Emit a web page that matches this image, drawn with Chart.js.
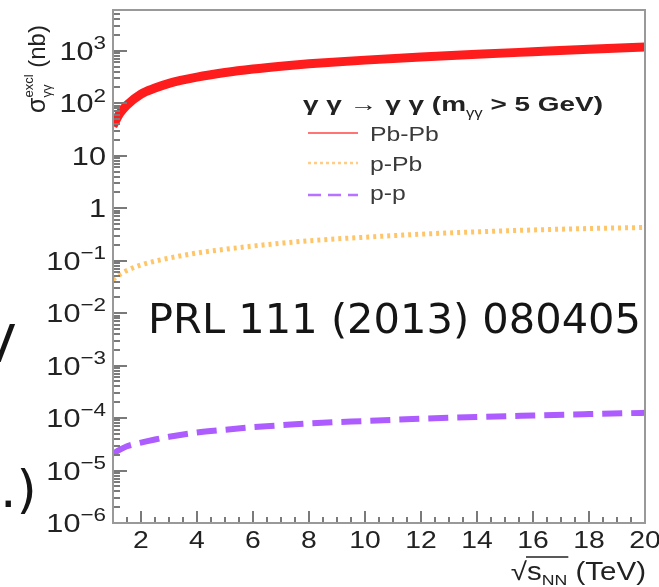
<!DOCTYPE html>
<html>
<head>
<meta charset="utf-8">
<style>
  html, body { margin: 0; padding: 0; background: #fff; }
</style>
<script src="https://cdn.jsdelivr.net/npm/chart.js@4.4.1/dist/chart.umd.min.js"></script>
</head>
<body>
<canvas id="chart" width="659" height="587"></canvas>
<script>
// energia sqrt(s_NN) en TeV
const energies = [1, 1.25, 1.5, 2, 2.5, 3, 4, 5, 6, 7, 8, 10, 12, 14, 16, 18, 20];
// secciones eficaces (nb)
const pbpbValues = [37, 65, 93, 150, 195, 240, 315, 385, 450, 510, 565, 665, 765, 860, 960, 1070, 1180];
const ppbValues = [0.044, 0.055, 0.065, 0.083, 0.098, 0.112, 0.140, 0.165, 0.19, 0.215, 0.24, 0.28, 0.32, 0.355, 0.385, 0.41, 0.43];
const ppValues = [2.1e-5, 2.5e-5, 2.9e-5, 3.4e-5, 3.9e-5, 4.4e-5, 5.3e-5, 6.0e-5, 6.7e-5, 7.3e-5, 7.9e-5, 8.8e-5, 9.7e-5, 1.05e-4, 1.12e-4, 1.19e-4, 1.26e-4];
const seriesNames = ['Pb-Pb', 'p-Pb', 'p-p'];

const xTicks = [2, 4, 6, 8, 10, 12, 14, 16, 18, 20];
const yTickValues = [1e-6, 1e-5, 1e-4, 1e-3, 1e-2, 1e-1, 1, 10, 100, 1000];
const yTickBase = ['10', '10', '10', '10', '10', '10', '1', '10', '10', '10'];
const yTickExp = ['\u22126', '\u22125', '\u22124', '\u22123', '\u22122', '\u22121', '', '', '2', '3'];

const ROOT_FONT = '"Liberation Sans", Arial, sans-serif';
const SX = 1.18; // el texto del original esta algo estirado en horizontal

function toPoints(values) {
  return energies.map((e, i) => ({ x: e, y: values[i] }));
}

function drawText(ctx, txt, x, y, size, opts) {
  opts = opts || {};
  ctx.save();
  ctx.font = (opts.weight || '') + ' ' + size + 'px ' + (opts.family || ROOT_FONT);
  ctx.fillStyle = opts.color || '#222';
  ctx.textAlign = opts.align || 'left';
  ctx.textBaseline = opts.baseline || 'alphabetic';
  ctx.translate(x, y);
  ctx.scale(opts.sx || SX, 1);
  ctx.fillText(txt, 0, 0);
  ctx.restore();
}

function textWidth(ctx, txt, size, opts) {
  opts = opts || {};
  ctx.save();
  ctx.font = (opts.weight || '') + ' ' + size + 'px ' + (opts.family || ROOT_FONT);
  const w = ctx.measureText(txt).width * (opts.sx || SX);
  ctx.restore();
  return w;
}

function line(ctx, x1, y1, x2, y2) {
  ctx.beginPath();
  ctx.moveTo(x1, y1);
  ctx.lineTo(x2, y2);
  ctx.stroke();
}

const rootStyle = {
  id: 'rootStyle',
  afterDraw(chart) {
    const ctx = chart.ctx;
    const a = chart.chartArea;
    const x = chart.scales.x;
    const y = chart.scales.y;
    ctx.save();
    ctx.setLineDash([]);
    ctx.lineDashOffset = 0;

    // marcas del eje Y (hacia dentro)
    ctx.strokeStyle = '#7a7a7a';
    ctx.lineWidth = 2;
    for (let d = -6; d <= 3; d++) {
      for (let m = 1; m <= 9; m++) {
        const v = m * Math.pow(10, d);
        if (v > y.max) break;
        const py = Math.round(y.getPixelForValue(v));
        line(ctx, a.left, py, a.left + (m === 1 ? 14 : 7), py);
      }
    }
    // marcas del eje X
    for (let v = 1; v <= 20; v += 0.5) {
      const px = Math.round(x.getPixelForValue(v));
      const len = (v % 2 === 0) ? 12 : 6;
      line(ctx, px, a.bottom, px, a.bottom - len);
    }

    // marco
    ctx.strokeStyle = '#999';
    ctx.lineWidth = 2;
    ctx.strokeRect(a.left, a.top, a.right - a.left, a.bottom - a.top);

    // etiquetas del eje Y
    yTickValues.forEach((v, i) => {
      const py = y.getPixelForValue(v);
      const right = 106;
      let ew = 0;
      if (yTickExp[i]) {
        ew = textWidth(ctx, yTickExp[i], 19);
        drawText(ctx, yTickExp[i], right, py - 7, 19, { align: 'right', baseline: 'middle' });
      }
      drawText(ctx, yTickBase[i], right - ew, py + 2, 26, { align: 'right', baseline: 'middle' });
    });

    // etiquetas del eje X
    xTicks.forEach(v => {
      drawText(ctx, String(v), x.getPixelForValue(v), 541, 24, { align: 'center', baseline: 'middle' });
    });

    // titulo eje X: sqrt(s_NN) (TeV)
    const wRoot = textWidth(ctx, '\u221A', 25);
    const wS = textWidth(ctx, 's', 25);
    const wNN = textWidth(ctx, 'NN', 15);
    const wTeV = textWidth(ctx, ' (TeV)', 25);
    let x0 = 646 - (wRoot + wS + wNN + wTeV);
    drawText(ctx, '\u221A', x0, 580, 25);
    ctx.strokeStyle = '#222';
    ctx.lineWidth = 1.5;
    line(ctx, x0 + wRoot - 1, 557, x0 + wRoot + wS + wNN + 1, 557);
    drawText(ctx, 's', x0 + wRoot, 580, 25);
    drawText(ctx, 'NN', x0 + wRoot + wS, 585, 15);
    drawText(ctx, ' (TeV)', x0 + wRoot + wS + wNN, 580, 25);

    // titulo eje Y: sigma_gg^excl (nb)
    ctx.save();
    ctx.translate(45, 113);
    ctx.rotate(-Math.PI / 2);
    const wSig = textWidth(ctx, '\u03C3', 25, { sx: 1 });
    drawText(ctx, '\u03C3', 0, 0, 25, { sx: 1 });
    drawText(ctx, '\u03B3\u03B3', wSig, 6, 13, { sx: 1 });
    drawText(ctx, 'excl', wSig, -12, 13, { sx: 1 });
    const wSup = textWidth(ctx, 'excl', 13, { sx: 1 });
    drawText(ctx, ' (nb)', wSig + wSup, 0, 24, { sx: 1 });
    ctx.restore();

    // leyenda
    const titleA = '\u03B3 \u03B3 \u2192 \u03B3 \u03B3 (m';
    const titleB = ' > 5 GeV)';
    const wA = textWidth(ctx, titleA, 20, { weight: 'bold', sx: 1 });
    const wG = textWidth(ctx, '\u03B3\u03B3', 12, { sx: 1 });
    const wB = textWidth(ctx, titleB, 20, { weight: 'bold', sx: 1 });
    const tsx = 300 / (wA + wG + wB);
    drawText(ctx, titleA, 303, 111, 20, { weight: 'bold', sx: tsx });
    drawText(ctx, '\u03B3\u03B3', 303 + wA * tsx, 117, 12, { sx: tsx });
    drawText(ctx, titleB, 303 + (wA + wG) * tsx, 111, 20, { weight: 'bold', sx: tsx });

    const sampleY = [133, 163, 195];
    const textY = [141, 171, 200];
    const sampleStyle = [
      { color: 'rgba(255,70,70,0.75)', width: 2, dash: [] },
      { color: 'rgba(255,200,120,0.9)', width: 2.5, dash: [3, 3] },
      { color: 'rgba(175,100,255,0.9)', width: 2.5, dash: [13, 7] }
    ];
    seriesNames.forEach((name, i) => {
      const s = sampleStyle[i];
      ctx.strokeStyle = s.color;
      ctx.lineWidth = s.width;
      ctx.setLineDash(s.dash);
      line(ctx, 308, sampleY[i], 358, sampleY[i]);
      ctx.setLineDash([]);
      drawText(ctx, name, 370, textY[i], 21, { color: '#3a3a3a' });
    });

    // texto de la diapositiva
    const prl = 'PRL 111 (2013) 080405';
    const wPrl = textWidth(ctx, prl, 40, { family: '"DejaVu Sans", sans-serif', sx: 1 });
    drawText(ctx, prl, 148, 333, 40, { family: '"DejaVu Sans", sans-serif', sx: 493 / wPrl, color: '#151515' });
    drawText(ctx, 'V', -20, 362, 52, { family: '"DejaVu Sans", sans-serif', sx: 1, color: '#151515' });
    drawText(ctx, '.)', 0, 507, 52, { family: '"DejaVu Sans", sans-serif', sx: 1, color: '#151515' });

    ctx.restore();
  }
};

const hidden = {
  ticks: { display: false },
  grid: { display: false, drawTicks: false },
  border: { display: false },
  title: { display: false }
};

new Chart(document.getElementById('chart'), {
  type: 'line',
  data: {
    datasets: [
      {
        label: seriesNames[0],
        data: toPoints(pbpbValues),
        borderColor: 'rgb(255, 28, 28)',
        borderWidth: 9,
        pointRadius: 0,
        cubicInterpolationMode: 'monotone'
      },
      {
        label: seriesNames[1],
        data: toPoints(ppbValues),
        borderColor: 'rgb(255, 198, 105)',
        borderWidth: 5,
        borderDash: [3, 4],
        pointRadius: 0,
        cubicInterpolationMode: 'monotone'
      },
      {
        label: seriesNames[2],
        data: toPoints(ppValues),
        borderColor: 'rgb(172, 92, 255)',
        borderWidth: 6,
        borderDash: [20, 9],
        pointRadius: 0,
        cubicInterpolationMode: 'monotone'
      }
    ]
  },
  options: {
    responsive: false,
    animation: false,
    layout: { padding: { left: 113, right: 14, top: 10, bottom: 64 } },
    plugins: { legend: { display: false }, tooltip: { enabled: false } },
    scales: {
      x: Object.assign({ type: 'linear', min: 1, max: 20, afterFit(s) { s.height = 0; } }, hidden),
      y: Object.assign({ type: 'logarithmic', min: 1e-6, max: 6000, afterFit(s) { s.width = 0; } }, hidden)
    }
  },
  plugins: [rootStyle]
});
</script>
</body>
</html>
